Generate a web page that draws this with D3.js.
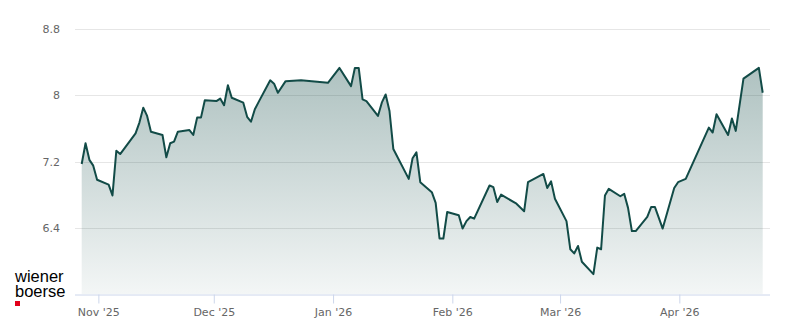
<!DOCTYPE html>
<html>
<head>
<meta charset="utf-8">
<script src="https://cdn.jsdelivr.net/npm/d3@7"></script>
<style>
  body { margin: 0; background: #fff; }
  .tickLabel { font-family: "DejaVu Sans", sans-serif; font-size: 11px; fill: #666; }
  .logo { font-family: "Liberation Sans", Arial, sans-serif; font-size: 16.5px; fill: #000; }
</style>
</head>
<body>
<div id="chart"></div>
<script>
// trading days (closing prices)
var dates = [
  "2025-10-27","2025-10-28","2025-10-29","2025-10-30","2025-10-31",
  "2025-11-03","2025-11-04","2025-11-05","2025-11-06","2025-11-10",
  "2025-11-11","2025-11-12","2025-11-13","2025-11-14","2025-11-17",
  "2025-11-18","2025-11-19","2025-11-20","2025-11-21","2025-11-24",
  "2025-11-25","2025-11-26","2025-11-27","2025-11-28","2025-12-01",
  "2025-12-02","2025-12-03","2025-12-04","2025-12-05","2025-12-08",
  "2025-12-09","2025-12-10","2025-12-11","2025-12-12","2025-12-15",
  "2025-12-16","2025-12-17","2025-12-19","2025-12-23","2025-12-30",
  "2026-01-02","2026-01-05","2026-01-06","2026-01-07","2026-01-08",
  "2026-01-09","2026-01-12","2026-01-13","2026-01-14","2026-01-15",
  "2026-01-16","2026-01-20","2026-01-21","2026-01-22","2026-01-23",
  "2026-01-26","2026-01-27","2026-01-28","2026-01-29","2026-01-30",
  "2026-02-02","2026-02-03","2026-02-04","2026-02-05","2026-02-06",
  "2026-02-10","2026-02-11","2026-02-12","2026-02-13","2026-02-17",
  "2026-02-19","2026-02-20","2026-02-24","2026-02-25","2026-02-26",
  "2026-02-27","2026-03-02","2026-03-03","2026-03-04","2026-03-05",
  "2026-03-06","2026-03-09","2026-03-10","2026-03-11","2026-03-12",
  "2026-03-13","2026-03-16","2026-03-17","2026-03-18","2026-03-19",
  "2026-03-20","2026-03-23","2026-03-24","2026-03-25","2026-03-27",
  "2026-03-30","2026-03-31","2026-04-02","2026-04-08","2026-04-09",
  "2026-04-10","2026-04-13","2026-04-14","2026-04-15","2026-04-17",
  "2026-04-21","2026-04-22"
];

var prices = [
  7.17, 7.42, 7.22, 7.15, 6.98,
  6.92, 6.79, 7.33, 7.29, 7.54,
  7.67, 7.85, 7.75, 7.56, 7.52,
  7.25, 7.42, 7.44, 7.56, 7.58,
  7.52, 7.73, 7.73, 7.94, 7.93,
  7.96, 7.88, 8.12, 7.97, 7.91,
  7.74, 7.68, 7.83, 7.92, 8.18,
  8.14, 8.03, 8.17, 8.18, 8.15,
  8.33, 8.11, 8.33, 8.33, 7.95,
  7.93, 7.75, 7.91, 8.01, 7.81,
  7.35, 6.99, 7.24, 7.31, 6.95,
  6.83, 6.70, 6.27, 6.27, 6.59,
  6.55, 6.39, 6.48, 6.53, 6.51,
  6.91, 6.89, 6.71, 6.80, 6.69,
  6.60, 6.95, 7.05, 6.88, 6.96,
  6.75, 6.48, 6.14, 6.09, 6.18,
  5.99, 5.84, 6.16, 6.14, 6.79,
  6.87, 6.78, 6.81, 6.64, 6.36,
  6.36, 6.53, 6.65, 6.65, 6.39,
  6.88, 6.95, 6.99, 7.61, 7.55,
  7.77, 7.52, 7.72, 7.57, 8.20,
  8.33, 8.03
];

// axis ticks
var yTicks = [6.4, 8, 7.2, 8.8];
var yLabels = ["6.4", "8", "7.2", "8.8"];
var xTickDates = ["2025-11-01","2025-12-01","2026-01-01","2026-02-01","2026-03-01","2026-04-01"];
var xLabels = ["Nov '25","Dec '25","Jan '26","Feb '26","Mar '26","Apr '26"];

// svg area
var svgWidth = 800;
var svgHeight = 324;

// plot area
var plot = { left: 75, right: 770, top: 29, bottom: 294 };

var svg = d3.select("#chart")
    .append("svg")
    .attr("width", svgWidth)
    .attr("height", svgHeight);

var parseDay = d3.timeParse("%Y-%m-%d");

// closing prices are stamped late in the day
var data = dates.map(function(d, i) {
    return { date: d3.timeHour.offset(parseDay(d), 16), price: prices[i] };
});

// scales
var xTimeScale = d3.scaleTime()
    .domain(d3.extent(data, d => d.date))
    .range([81.7, 762.7]);

var yLinearScale = d3.scaleLinear()
    .domain([5.6, 8.8])
    .range([plot.bottom, plot.top]);

var crisp = v => Math.round(v) + 0.5;

// gradient for area
var grad = svg.append("defs")
    .append("linearGradient")
    .attr("id", "areaFill")
    .attr("x1", 0).attr("y1", 0)
    .attr("x2", 0).attr("y2", 1);
grad.append("stop").attr("offset", "0%").attr("stop-color", "#124b47").attr("stop-opacity", 0.34);
grad.append("stop").attr("offset", "100%").attr("stop-color", "#124b47").attr("stop-opacity", 0.05);

// grid lines
svg.append("g")
    .selectAll("line")
    .data(yTicks)
    .enter()
    .append("line")
    .attr("x1", plot.left)
    .attr("x2", plot.right)
    .attr("y1", d => crisp(yLinearScale(d)))
    .attr("y2", d => crisp(yLinearScale(d)))
    .attr("stroke", "#e6e6e6")
    .attr("stroke-width", 1);

// y labels
svg.append("g")
    .selectAll("text")
    .data(yTicks)
    .enter()
    .append("text")
    .attr("class", "tickLabel")
    .attr("x", 60)
    .attr("y", d => yLinearScale(d) + 4)
    .attr("text-anchor", "end")
    .text((d, i) => yLabels[i]);

// area and line
var area = d3.area()
    .x(d => xTimeScale(d.date))
    .y0(plot.bottom)
    .y1(d => yLinearScale(d.price));

var line = d3.line()
    .x(d => xTimeScale(d.date))
    .y(d => yLinearScale(d.price));

svg.append("path")
    .datum(data)
    .attr("d", area)
    .attr("fill", "url(#areaFill)");

svg.append("path")
    .datum(data)
    .attr("d", line)
    .attr("fill", "none")
    .attr("stroke", "#124b47")
    .attr("stroke-width", 2)
    .attr("stroke-linejoin", "round");

// x axis
var bottomAxis = d3.axisBottom(xTimeScale)
    .tickValues(xTickDates.map(parseDay))
    .tickFormat((d, i) => xLabels[i])
    .tickSize(9)
    .tickSizeOuter(0);

var xAxisGroup = svg.append("g")
    .attr("transform", `translate(0, ${plot.bottom + 0.5})`)
    .call(bottomAxis);

xAxisGroup.select(".domain")
    .attr("d", `M${plot.left},0.5H${plot.right}`)
    .attr("stroke", "#ccd6eb");

xAxisGroup.selectAll(".tick line")
    .attr("stroke", "#ccd6eb");

xAxisGroup.selectAll(".tick text")
    .attr("class", "tickLabel")
    .attr("y", 14)
    .attr("dy", "0.71em")
    .attr("fill", null)
    .attr("font-family", null)
    .attr("font-size", null);

// logo, two lines in one text block
var logo = svg.append("text")
    .attr("class", "logo")
    .attr("x", 15)
    .attr("y", 282);

logo.append("tspan")
    .attr("x", 15)
    .text("wiener");

logo.append("tspan")
    .attr("x", 15)
    .attr("dy", 15)
    .text("boerse");

svg.append("rect")
    .attr("x", 15)
    .attr("y", 301)
    .attr("width", 5)
    .attr("height", 5)
    .attr("fill", "#e2001a");
</script>
</body>
</html>
